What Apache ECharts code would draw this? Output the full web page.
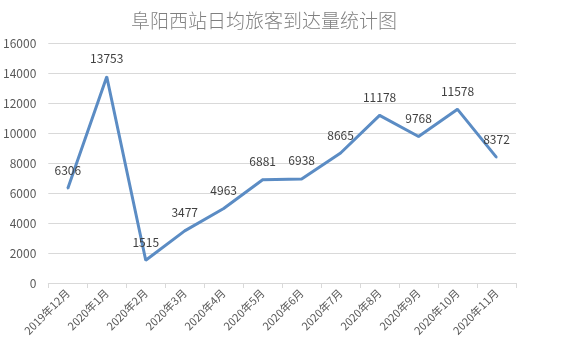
<!DOCTYPE html>
<html>
<head>
<meta charset="utf-8">
<script src="https://cdn.jsdelivr.net/npm/echarts@6.0.0/dist/echarts.min.js"></script>
<style>
html, body { margin: 0; padding: 0; background: #fff; }
#main { width: 574px; height: 353px; }
</style>
</head>
<body>
<div id="main"></div>
<script>
const months = ['2019年12月', '2020年1月', '2020年2月', '2020年3月', '2020年4月', '2020年5月',
	'2020年6月', '2020年7月', '2020年8月', '2020年9月', '2020年10月', '2020年11月']
const arrivals = [6306, 13753, 1515, 3477, 4963, 6881, 6938, 8665, 11178, 9768, 11578, 8372]

const chart = echarts.init(document.getElementById('main'))
chart.setOption({
	backgroundColor: '#fff',
	textStyle: { fontFamily: '"Noto Sans CJK SC", "Liberation Sans", sans-serif' },
	title: {
		text: '阜阳西站日均旅客到达量统计图',
		left: 259, top: 6, textAlign: 'center',
		textStyle: { fontSize: 19, fontWeight: 300, color: '#808080' }
	},
	grid: { left: 45, right: 58, top: 43, bottom: 70 },
	xAxis: {
		type: 'category',
		data: months,
		boundaryGap: true,
		axisLine: { lineStyle: { color: '#d9d9d9' } },
		axisTick: { show: true, lineStyle: { color: '#d9d9d9' } },
		axisLabel: { rotate: 45, color: '#595959', fontSize: 11, margin: 8 }
	},
	yAxis: {
		type: 'value',
		min: 0, max: 16000, interval: 2000,
		axisLine: { show: false },
		axisTick: { show: false },
		splitLine: { lineStyle: { color: '#d9d9d9' } },
		axisLabel: { color: '#595959', fontSize: 12, margin: 12, formatter: v => String(v) }
	},
	series: [{
		type: 'line',
		data: arrivals,
		showSymbol: true,
		symbol: 'circle',
		symbolSize: 2,
		itemStyle: { color: '#5b8cc4' },
		lineStyle: { color: '#5b8cc4', width: 3 },
		label: { show: true, position: 'top', distance: 11, color: '#404040', fontSize: 12 }
	}]
})
</script>
</body>
</html>
